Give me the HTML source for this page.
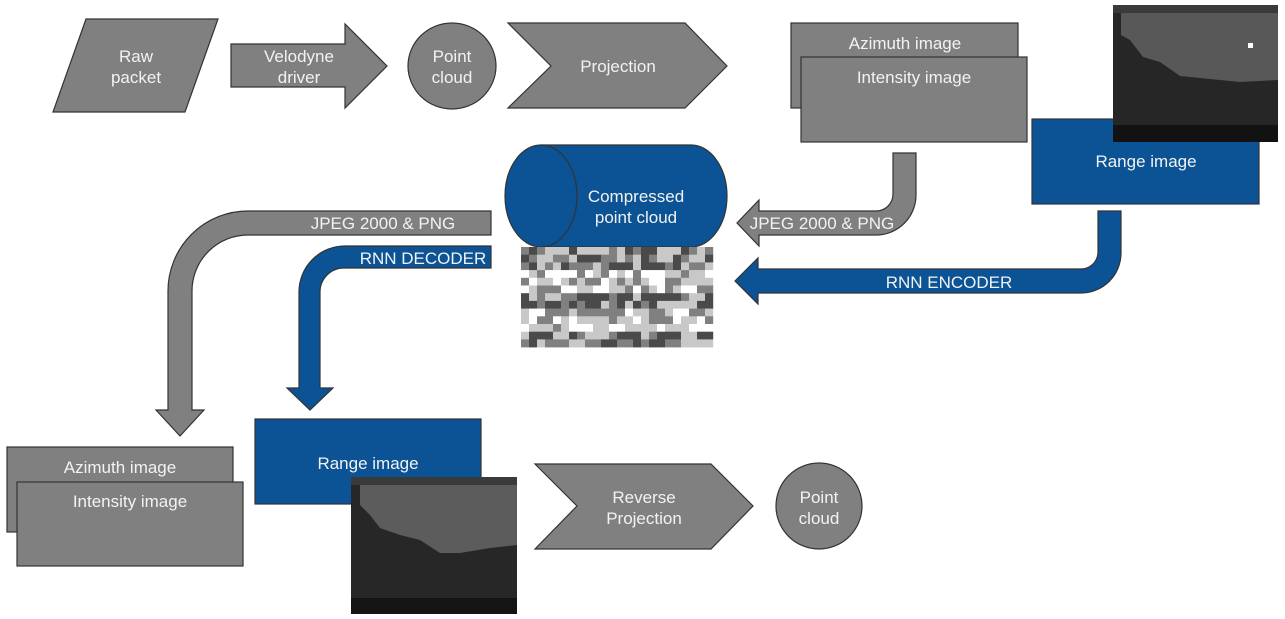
<!DOCTYPE html>
<html><head><meta charset="utf-8"><style>
html,body{margin:0;padding:0;background:#fff;width:1285px;height:619px;overflow:hidden}
svg text{font-family:"Liberation Sans",sans-serif;font-size:17px;fill:#f2f2f2;text-anchor:middle}
</style></head><body>
<svg width="1285" height="619" viewBox="0 0 1285 619" xmlns="http://www.w3.org/2000/svg">
<g stroke="#333" stroke-width="1.2">
<polygon points="86,19 218,19 185,112 53,112" fill="#808080"/>
<polygon points="231,44 345,44 345,24 387,66 345,108 345,87 231,87" fill="#808080"/>
<ellipse cx="452" cy="66" rx="44" ry="43" fill="#808080"/>
<polygon points="508,23 685,23 727,66 685,108 508,108 551,66" fill="#808080"/>
<rect x="791" y="23" width="227" height="85" fill="#808080"/>
<rect x="801" y="57" width="226" height="85" fill="#808080"/>
<rect x="1032" y="119" width="227" height="85" fill="#0b5394"/>
</g>
<g>
<rect x="1113" y="5" width="165" height="137" fill="#262626"/>
<polygon points="1121,12 1278,12 1278,80 1240,82 1220,80 1180,76 1160,62 1143,57 1130,40 1121,35" fill="#585858"/>
<rect x="1113" y="5" width="165" height="8" fill="#3a3a3a"/>
<rect x="1113" y="125" width="165" height="17" fill="#121212"/>
<rect x="1248" y="43" width="5" height="5" fill="#fff"/>
</g>
<text x="1146" y="167">Range image</text>
<text x="905" y="49">Azimuth image</text>
<text x="914" y="83">Intensity image</text>
<text x="136" y="62">Raw</text><text x="136" y="83">packet</text>
<text x="299" y="62">Velodyne</text><text x="299" y="83">driver</text>
<text x="452" y="62">Point</text><text x="452" y="83">cloud</text>
<text x="618" y="72">Projection</text>

<g stroke="#333" stroke-width="1.2">
<path d="M893,153 L916,153 L916,195 A40,40 0 0 1 876,235 L759,235 L759,246 L737,223 L759,200 L759,211 L876,211 A17,17 0 0 0 893,194 Z" fill="#808080"/>
<path d="M1098,211 L1121,211 L1121,253 A40,40 0 0 1 1081,293 L758,293 L758,304 L735,281 L758,258 L758,269 L1081,269 A17,17 0 0 0 1098,252 Z" fill="#0b5394"/>
<path d="M491,211 L248,211 A80,80 0 0 0 168,291 L168,410 L156,410 L180,436 L204,410 L192,410 L192,291 A56,56 0 0 1 248,235 L491,235 Z" fill="#808080"/>
<path d="M491,246 L345,246 A46,46 0 0 0 299,292 L299,388 L287,388 L310,410 L333,388 L320,388 L320,292 A24,24 0 0 1 344,268 L491,268 Z" fill="#0b5394"/>
<path d="M541,145 L691,145 A36,51 0 0 1 727,196 A36,51 0 0 1 691,247 L541,247 A36,51 0 0 1 505,196 A36,51 0 0 1 541,145 Z" fill="#0b5394"/>
<path d="M541,145 A36,51 0 0 1 577,196 A36,51 0 0 1 541,247" fill="none"/>
</g>
<g id="noise"></g>
<text x="636" y="202">Compressed</text><text x="636" y="223">point cloud</text>
<text x="822" y="229">JPEG 2000 &amp; PNG</text>
<text x="949" y="288">RNN ENCODER</text>
<text x="383" y="229">JPEG 2000 &amp; PNG</text>
<text x="423" y="264">RNN DECODER</text>

<g stroke="#333" stroke-width="1.2">
<rect x="7" y="447" width="226" height="85" fill="#808080"/>
<rect x="17" y="482" width="226" height="84" fill="#808080"/>
<rect x="255" y="419" width="226" height="85" fill="#0b5394"/>
<polygon points="535,464 711,464 753,506 711,549 535,549 577,506" fill="#808080"/>
<ellipse cx="819" cy="506" rx="43" ry="43" fill="#808080"/>
</g>
<text x="120" y="473">Azimuth image</text>
<text x="130" y="507">Intensity image</text>
<text x="368" y="469">Range image</text>
<g>
<rect x="351" y="477" width="166" height="137" fill="#272727"/>
<polygon points="360,485 517,485 517,545 490,548 460,553 440,553 420,540 400,535 380,528 370,515 360,505" fill="#5c5c5c"/>
<rect x="351" y="477" width="166" height="8" fill="#3a3a3a"/>
<rect x="351" y="598" width="166" height="16" fill="#141414"/>
</g>
<text x="644" y="503">Reverse</text><text x="644" y="524">Projection</text>
<text x="819" y="503">Point</text><text x="819" y="524">cloud</text>
</svg>
<script>
(function(){
var g=document.getElementById('noise'),s=12345;
var bands=[['#4a4a4a','#808080','#c8c8c8'],['#808080','#ffffff','#c8c8c8'],['#4a4a4a','#4a4a4a','#c8c8c8','#808080'],['#ffffff','#808080','#c8c8c8'],['#c8c8c8','#4a4a4a','#808080']];
function r(){s=(s*1103515245+12345)&0x7fffffff;return s/0x7fffffff;}
var h='';
for(var y=0;y<13;y++){var c=bands[Math.floor(y/2.6)%bands.length];
for(var x=0;x<24;x++){
h+='<rect x="'+(521+x*8)+'" y="'+(247+y*7.7)+'" width="8.2" height="8" fill="'+c[Math.floor(r()*c.length)]+'"/>';}}
g.innerHTML=h;
})();
</script>
</body></html>
